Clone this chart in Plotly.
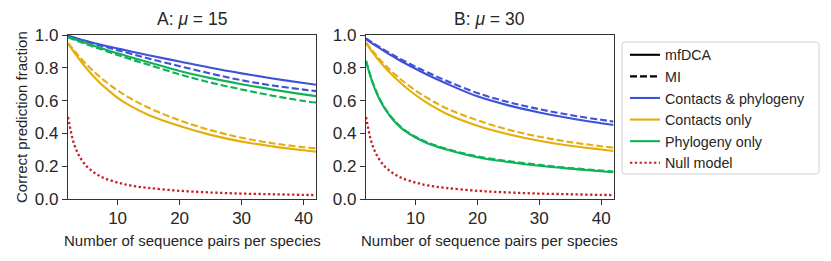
import plotly.graph_objects as go

W, H = 831, 261

# ---------------- data ----------------
x_pairs = [2, 3, 4, 5, 6, 7, 8, 10, 12, 15, 20, 25, 30, 35, 40, 42]

# Panel A (mu = 15)
a_cp_dca = [0.995, 0.984, 0.973, 0.963, 0.953, 0.944, 0.935, 0.918, 0.901, 0.877, 0.838, 0.800, 0.766, 0.735, 0.707, 0.697]
a_cp_mi  = [0.995, 0.983, 0.971, 0.960, 0.949, 0.938, 0.928, 0.907, 0.887, 0.857, 0.810, 0.765, 0.724, 0.692, 0.667, 0.658]
a_c_dca  = [0.949, 0.894, 0.843, 0.796, 0.753, 0.714, 0.679, 0.617, 0.569, 0.512, 0.445, 0.391, 0.350, 0.321, 0.297, 0.288]
a_c_mi   = [0.952, 0.904, 0.860, 0.820, 0.783, 0.749, 0.718, 0.662, 0.615, 0.556, 0.480, 0.420, 0.373, 0.340, 0.316, 0.308]
a_p_dca  = [0.988, 0.975, 0.962, 0.949, 0.936, 0.924, 0.912, 0.888, 0.866, 0.834, 0.781, 0.737, 0.700, 0.667, 0.638, 0.627]
a_p_mi   = [0.985, 0.971, 0.957, 0.943, 0.930, 0.917, 0.904, 0.878, 0.853, 0.818, 0.760, 0.710, 0.668, 0.630, 0.598, 0.588]

# Panel B (mu = 30)
b_cp_dca = [0.975, 0.949, 0.924, 0.900, 0.877, 0.855, 0.834, 0.794, 0.756, 0.704, 0.626, 0.571, 0.528, 0.492, 0.462, 0.451]
b_cp_mi  = [0.980, 0.955, 0.931, 0.908, 0.886, 0.865, 0.845, 0.807, 0.771, 0.721, 0.646, 0.591, 0.548, 0.512, 0.483, 0.472]
b_c_dca  = [0.950, 0.897, 0.849, 0.805, 0.765, 0.728, 0.694, 0.634, 0.583, 0.520, 0.447, 0.395, 0.355, 0.325, 0.302, 0.293]
b_c_mi   = [0.955, 0.906, 0.861, 0.820, 0.783, 0.749, 0.718, 0.662, 0.614, 0.553, 0.480, 0.423, 0.380, 0.347, 0.322, 0.313]
b_p_dca  = [0.840, 0.715, 0.622, 0.553, 0.500, 0.457, 0.423, 0.375, 0.339, 0.302, 0.255, 0.226, 0.203, 0.185, 0.169, 0.164]
b_p_mi   = [0.845, 0.720, 0.627, 0.558, 0.505, 0.462, 0.428, 0.380, 0.344, 0.306, 0.260, 0.231, 0.208, 0.189, 0.174, 0.168]

# Null model (same in both panels)
null_model = [0.500, 0.333, 0.250, 0.200, 0.167, 0.143, 0.125, 0.100, 0.083, 0.067, 0.050, 0.040, 0.033, 0.029, 0.025, 0.024]

panel_titles = ["A: <i>μ</i> = 15", "B: <i>μ</i> = 30"]
y_ticks = [0.0, 0.2, 0.4, 0.6, 0.8, 1.0]
x_ticks = [10, 20, 30, 40]
legend_labels = ["mfDCA", "MI", "Contacts & phylogeny", "Contacts only", "Phylogeny only", "Null model"]

# ---------------- style ----------------
BLUE = "#3f51d8"
YELLOW = "#e4ae0b"
GREEN = "#10b158"
RED = "#c8201e"
INK = "#262626"
FONT = "Liberation Sans, Arial, sans-serif"
FS = 15
FS_LEG = 14.3
FS_TICK = 17
LW = 2.1
DASH = "7px,3px"
DOT = "2.3px,2.5px"

fig = go.Figure()

panels = [
    ("x", "y", [(a_cp_dca, a_cp_mi, BLUE), (a_c_dca, a_c_mi, YELLOW), (a_p_dca, a_p_mi, GREEN)]),
    ("x2", "y2", [(b_cp_dca, b_cp_mi, BLUE), (b_c_dca, b_c_mi, YELLOW), (b_p_dca, b_p_mi, GREEN)]),
]

for xa, ya, series in panels:
    for dca, mi, col in series:
        fig.add_trace(go.Scatter(x=x_pairs, y=dca, mode="lines", xaxis=xa, yaxis=ya,
                                 line=dict(color=col, width=LW, shape="spline", smoothing=1.0),
                                 showlegend=False, hoverinfo="skip"))
        fig.add_trace(go.Scatter(x=x_pairs, y=mi, mode="lines", xaxis=xa, yaxis=ya,
                                 line=dict(color=col, width=LW, dash=DASH, shape="spline", smoothing=1.0),
                                 showlegend=False, hoverinfo="skip"))
    fig.add_trace(go.Scatter(x=x_pairs, y=null_model, mode="lines", xaxis=xa, yaxis=ya,
                             line=dict(color=RED, width=2.3, dash=DOT, shape="spline", smoothing=1.0),
                             showlegend=False, hoverinfo="skip"))

# legend-only entries
leg_styles = [("black", None), ("black", DASH), (BLUE, None), (YELLOW, None), (GREEN, None), (RED, DOT)]
for i, (lab, (col, dash)) in enumerate(zip(legend_labels, leg_styles)):
    ln = dict(color=col, width=LW)
    if dash:
        ln["dash"] = dash
    fig.add_trace(go.Scatter(x=[None], y=[None], mode="lines", name=lab, line=ln,
                             legendgroup=f"g{i}", showlegend=True))

# geometry (pixels)
ax_a = (68, 316)
ax_b = (366, 613.5)
y_top, y_bot = 35, 199


def fx(p):
    return p / W


def fy(p):
    return 1 - p / H


axis_common = dict(showline=True, linecolor="#333333", linewidth=1.3, mirror=True,
                   ticks="outside", ticklen=5, tickwidth=1.3, tickcolor="#333333",
                   showgrid=False, zeroline=False, automargin=False,
                   tickfont=dict(family=FONT, size=FS_TICK, color=INK))

# rounded legend frame (matplotlib style)
lx0, lx1, ly0, ly1, r = 622, 819, 42, 174, 3
path = (f"M {fx(lx0 + r)},{fy(ly0)} L {fx(lx1 - r)},{fy(ly0)} Q {fx(lx1)},{fy(ly0)} {fx(lx1)},{fy(ly0 + r)} "
        f"L {fx(lx1)},{fy(ly1 - r)} Q {fx(lx1)},{fy(ly1)} {fx(lx1 - r)},{fy(ly1)} "
        f"L {fx(lx0 + r)},{fy(ly1)} Q {fx(lx0)},{fy(ly1)} {fx(lx0)},{fy(ly1 - r)} "
        f"L {fx(lx0)},{fy(ly0 + r)} Q {fx(lx0)},{fy(ly0)} {fx(lx0 + r)},{fy(ly0)} Z")

fig.update_layout(
    width=W, height=H,
    margin=dict(l=0, r=0, t=0, b=0, autoexpand=False),
    paper_bgcolor="white", plot_bgcolor="white",
    font=dict(family=FONT, size=FS, color=INK),
    xaxis=dict(domain=[fx(ax_a[0]), fx(ax_a[1])], range=[2, 42], tickvals=x_ticks, anchor="y",
               ticklabelstandoff=-2, **axis_common),
    yaxis=dict(domain=[fy(y_bot), fy(y_top)], range=[0, 1], tickvals=y_ticks, tickformat=".1f", anchor="x", **axis_common),
    xaxis2=dict(domain=[fx(ax_b[0]), fx(ax_b[1])], range=[2, 42], tickvals=x_ticks, anchor="y2",
                ticklabelstandoff=-2, **axis_common),
    yaxis2=dict(domain=[fy(y_bot), fy(y_top)], range=[0, 1], tickvals=y_ticks, tickformat=".1f", anchor="x2", **axis_common),
    legend=dict(x=fx(625), y=fy(39), xanchor="left", yanchor="top",
                bgcolor="rgba(0,0,0,0)", borderwidth=0,
                font=dict(family=FONT, size=FS_LEG, color=INK),
                tracegroupgap=0, itemwidth=30),
    showlegend=True,
    shapes=[dict(type="path", path=path, xref="paper", yref="paper",
                 fillcolor="white", line=dict(color="#d0d0d0", width=1), layer="above")],
)

annots = []
for (x0, x1), title in zip([ax_a, ax_b], panel_titles):
    cx = fx((x0 + x1) / 2)
    annots.append(dict(text=title, x=cx, y=fy(19.5), xref="paper", yref="paper",
                       xanchor="center", yanchor="middle", showarrow=False,
                       font=dict(family=FONT, size=17.5, color=INK)))
    annots.append(dict(text="Number of sequence pairs per species", x=cx, y=fy(240.5),
                       xref="paper", yref="paper", xanchor="center", yanchor="middle",
                       showarrow=False, font=dict(family=FONT, size=FS, color=INK)))
annots.append(dict(text="Correct prediction fraction", x=fx(21), y=fy((y_top + y_bot) / 2),
                   xref="paper", yref="paper", xanchor="center", yanchor="middle",
                   textangle=-90, showarrow=False, font=dict(family=FONT, size=FS, color=INK)))
fig.update_layout(annotations=annots)

fig.write_html("out.html", config={"displayModeBar": False},
               post_script="document.body.style.margin='0';document.body.style.overflow='hidden';")
